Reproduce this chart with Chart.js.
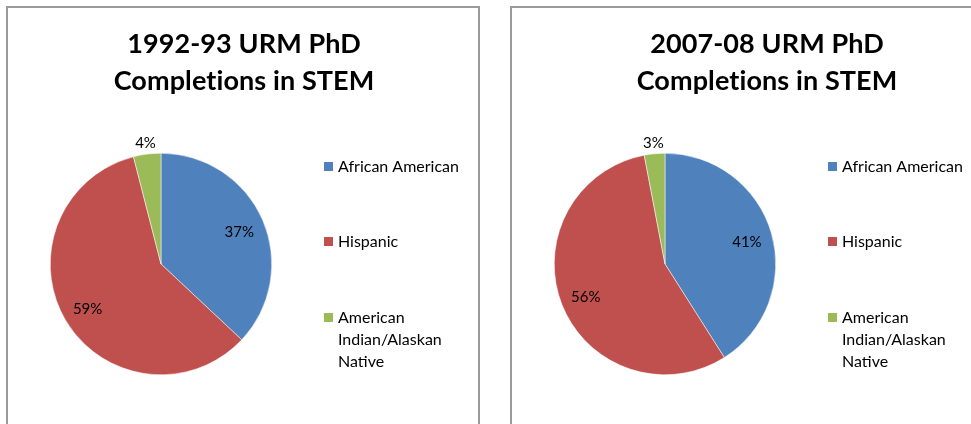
<!DOCTYPE html>
<html>
<head>
<meta charset="utf-8">
<script src="https://cdn.jsdelivr.net/npm/chart.js@4"></script>
<style>
  body { margin: 0; background: #fff; width: 971px; height: 424px; overflow: hidden; position: relative; }
  .box { position: absolute; top: 6px; height: 440px; border: 2px solid #9a9a9a; box-sizing: border-box; }
  .box canvas { position: absolute; left: 0; top: 0; }
</style>
</head>
<body>
<div class="box" style="left:6px;width:474px;"><canvas id="pie1" width="470" height="416"></canvas></div>
<div class="box" style="left:510px;width:514px;"><canvas id="pie2" width="510" height="416"></canvas></div>
<script>
const categories = ['African American', 'Hispanic', 'American Indian/Alaskan Native'];
const legendLines = [['African American'], ['Hispanic'], ['American', 'Indian/Alaskan', 'Native']];
const values1993 = [37, 59, 4];
const values2008 = [41, 56, 3];
const colors = ['#4F81BD', '#C0504D', '#9BBB59'];
const titles = [['1992-93 URM PhD', 'Completions in STEM'], ['2007-08 URM PhD', 'Completions in STEM']];

const FONT = 'Lato, Calibri, "Open Sans", sans-serif';

// title, percent labels and legend drawn on top of the pie
const decor = {
  id: 'decor',
  afterDraw(chart, args, opts) {
    const ctx = chart.ctx;
    ctx.save();
    ctx.fillStyle = '#000';
    ctx.textAlign = 'center';
    ctx.textBaseline = 'middle';
    ctx.font = 'bold 27px ' + FONT;
    ctx.letterSpacing = '0.1px'; // keeps "ti" from turning into a ligature
    opts.title.forEach((t, i) => ctx.fillText(t, opts.titleX, 36 + i * 37));
    ctx.letterSpacing = '0px';

    // percent labels
    const meta = chart.getDatasetMeta(0);
    const data = chart.data.datasets[0].data;
    ctx.font = '15px ' + FONT;
    meta.data.forEach((arc, i) => {
      const mid = (arc.startAngle + arc.endAngle) / 2;
      const r = data[i] < 10 ? arc.outerRadius + 13 : arc.outerRadius * 0.77;
      ctx.fillText(data[i] + '%', arc.x + Math.cos(mid) * r, arc.y + Math.sin(mid) * r + 2);
    });

    // legend
    const ys = [159, 234, 310];
    ctx.textAlign = 'left';
    ctx.font = '16px ' + FONT;
    legendLines.forEach((lines, i) => {
      ctx.fillStyle = colors[i];
      ctx.fillRect(316, ys[i] - 5, 9, 9);
      ctx.fillStyle = '#000';
      lines.forEach((l, j) => ctx.fillText(l, 330, ys[i] + j * 22));
    });
    ctx.restore();
  }
};

function makePie(id, values, title, titleX, padRight) {
  new Chart(document.getElementById(id), {
    type: 'pie',
    data: {
      labels: categories,
      datasets: [{
        data: values,
        backgroundColor: colors,
        borderColor: '#ffffff',
        borderWidth: 0.5
      }]
    },
    options: {
      responsive: false,
      animation: false,
      layout: { padding: { left: 42, top: 145, right: padRight, bottom: 49 } },
      plugins: {
        legend: { display: false },
        tooltip: { enabled: false },
        decor: { title: title, titleX: titleX }
      }
    },
    plugins: [decor]
  });
}

makePie('pie1', values1993, titles[0], 236, 206);
makePie('pie2', values2008, titles[1], 255, 246);
</script>
</body>
</html>
